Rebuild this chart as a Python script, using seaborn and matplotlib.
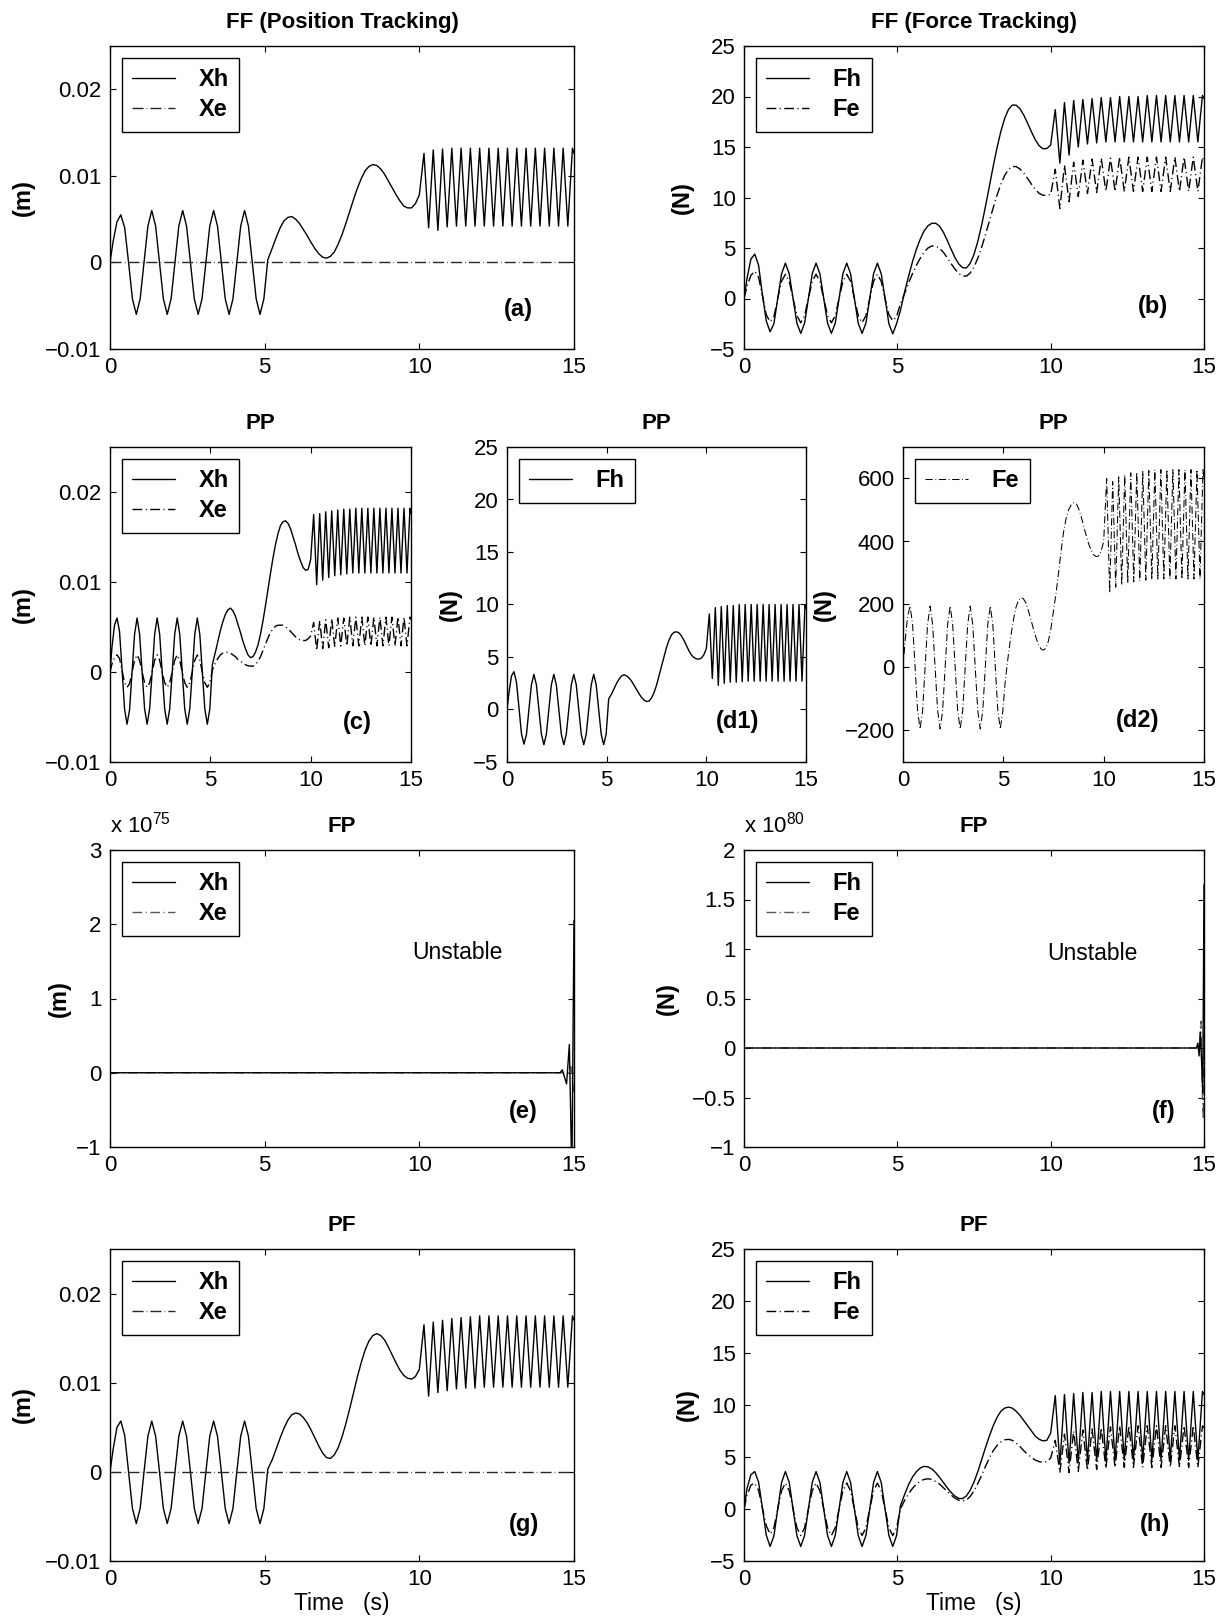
import matplotlib
matplotlib.use("Agg")
import matplotlib.pyplot as plt
import pandas as pd
import seaborn as sns
from matplotlib.ticker import FuncFormatter, FixedLocator

# ---------------- time grids (s) ----------------
T_SLOW = [0.0, 0.1, 0.225, 0.35, 0.475, 0.6, 0.725, 0.85, 0.975,
          1.1, 1.225, 1.35, 1.475, 1.6, 1.725, 1.85, 1.975,
          2.1, 2.225, 2.35, 2.475, 2.6, 2.725, 2.85, 2.975,
          3.1, 3.225, 3.35, 3.475, 3.6, 3.725, 3.85, 3.975,
          4.1, 4.225, 4.35, 4.475, 4.6, 4.725, 4.85, 4.975]
T_MID = [5.1, 5.25, 5.375, 5.5, 5.625, 5.75, 5.875, 6.0, 6.125, 6.25,
         6.375, 6.5, 6.625, 6.75, 6.875, 7.0, 7.125, 7.25, 7.375, 7.5,
         7.625, 7.75, 7.875, 8.0, 8.125, 8.25, 8.375, 8.5, 8.625, 8.75,
         8.875, 9.0, 9.125, 9.25, 9.375, 9.5, 9.625, 9.75, 9.875, 10.0]
T_FAST = [10.15, 10.3, 10.45, 10.6, 10.75, 10.9, 11.05, 11.2, 11.35, 11.5,
          11.65, 11.8, 11.95, 12.1, 12.25, 12.4, 12.55, 12.7, 12.85, 13.0,
          13.15, 13.3, 13.45, 13.6, 13.75, 13.9, 14.05, 14.2, 14.35, 14.5,
          14.65, 14.8, 14.95, 15.0]

# ---------------- (a) FF position ----------------
A_XH_SLOW = [0.0, 0.0024, 0.0047, 0.0055, 0.0040, 0.0, -0.0042, -0.0060, -0.0042,
             0.0, 0.0042, 0.0060, 0.0042, 0.0, -0.0042, -0.0060, -0.0042,
             0.0, 0.0042, 0.0060, 0.0042, 0.0, -0.0042, -0.0060, -0.0042,
             0.0, 0.0042, 0.0060, 0.0042, 0.0, -0.0042, -0.0060, -0.0042,
             0.0, 0.0042, 0.0060, 0.0042, 0.0, -0.0042, -0.0060, -0.0042]
A_XH_MID = [0.0003, 0.0017, 0.0029, 0.0040, 0.0048, 0.0052, 0.0053, 0.0050, 0.0045, 0.0038,
            0.0031, 0.0023, 0.0016, 0.0010, 0.0006, 0.0005, 0.0007, 0.0012, 0.0021, 0.0032,
            0.0045, 0.0059, 0.0073, 0.0086, 0.0097, 0.0106, 0.0111, 0.0113, 0.0112, 0.0108,
            0.0102, 0.0094, 0.0086, 0.0078, 0.0071, 0.0065, 0.0063, 0.0063, 0.0068, 0.0078]
A_XH_FAST = [0.0126, 0.0040, 0.0130, 0.0037, 0.0131, 0.0041, 0.0132, 0.0042,
             0.0132, 0.0042, 0.0132, 0.0042, 0.0132, 0.0042, 0.0132, 0.0042,
             0.0132, 0.0042, 0.0132, 0.0042, 0.0132, 0.0042, 0.0132, 0.0042,
             0.0132, 0.0042, 0.0132, 0.0042, 0.0132, 0.0042, 0.0132, 0.0042,
             0.0132, 0.0126]
FLAT_T = [0.0, 15.0]
FLAT_ZERO = [0.0, 0.0]

# ---------------- (b) FF force ----------------
B_FH_SLOW = [0.0, 2.0, 3.9, 4.4, 3.3, 0.4, -2.2, -3.3, -2.5,
             0.0, 2.45, 3.5, 2.45, 0.0, -2.45, -3.45, -2.45,
             0.0, 2.45, 3.5, 2.45, 0.0, -2.45, -3.45, -2.45,
             0.0, 2.45, 3.5, 2.45, 0.0, -2.45, -3.45, -2.45,
             0.0, 2.45, 3.5, 2.45, 0.0, -2.5, -3.5, -2.5]
B_FH_MID = [-1.2, 0.8, 2.3, 3.7, 4.9, 5.9, 6.7, 7.2, 7.45, 7.45,
            7.17, 6.57, 5.77, 4.9, 4.08, 3.43, 3.06, 3.02, 3.48, 4.37,
            5.66, 7.28, 9.13, 11.1, 13.07, 14.92, 16.54, 17.83, 18.72, 19.16,
            19.14, 18.78, 18.15, 17.34, 16.49, 15.71, 15.12, 14.83, 14.85, 15.2]
B_FH_FAST = [18.7, 13.4, 19.4, 14.2, 19.6, 15.0, 19.7, 15.3,
             19.8, 15.4, 19.9, 15.5, 19.9, 15.5, 20.0, 15.5,
             20.0, 15.5, 20.0, 15.5, 20.1, 15.5, 20.1, 15.5,
             20.1, 15.5, 20.1, 15.5, 20.1, 15.5, 20.1, 15.5,
             20.1, 19.8]
B_FE_SLOW = [0.0, 1.2, 2.3, 2.7, 2.1, 0.3, -1.6, -2.3, -1.8,
             0.0, 1.7, 2.4, 1.7, 0.0, -1.7, -2.4, -1.7,
             0.0, 1.7, 2.4, 1.7, 0.0, -1.7, -2.4, -1.7,
             0.0, 1.7, 2.4, 1.7, 0.0, -1.7, -2.4, -1.7,
             0.0, 1.7, 2.4, 1.7, 0.0, -1.6, -2.2, -1.8]
B_FE_MID = [-0.5, 0.6, 1.6, 2.5, 3.3, 4.0, 4.6, 5.0, 5.2, 5.2,
            4.98, 4.58, 4.05, 3.47, 2.92, 2.49, 2.24, 2.21, 2.52, 3.12,
            3.99, 5.08, 6.33, 7.65, 8.97, 10.22, 11.31, 12.18, 12.78, 13.07,
            13.06, 12.82, 12.41, 11.88, 11.31, 10.8, 10.41, 10.22, 10.2, 10.3]
B_FE_FAST = [12.8, 8.9, 13.2, 9.6, 13.5, 10.1, 13.7, 10.4,
             13.8, 10.5, 13.9, 10.6, 13.9, 10.6, 14.0, 10.6,
             14.0, 10.6, 14.0, 10.6, 14.0, 10.6, 14.0, 10.6,
             14.0, 10.6, 14.0, 10.6, 14.0, 10.6, 14.0, 10.6,
             14.0, 13.6]

# ---------------- (c) PP position ----------------
C_XH_SLOW = [0.0, 0.0028, 0.0052, 0.0060, 0.0045, 0.0003, -0.0041, -0.0058, -0.0042,
             0.0, 0.0042, 0.0060, 0.0042, 0.0, -0.0041, -0.0058, -0.0041,
             0.0, 0.0042, 0.0060, 0.0042, 0.0, -0.0041, -0.0058, -0.0041,
             0.0, 0.0042, 0.0060, 0.0042, 0.0, -0.0041, -0.0058, -0.0041,
             0.0, 0.0042, 0.0060, 0.0042, 0.0, -0.0041, -0.0058, -0.0041]
C_XH_MID = [0.0008, 0.0022, 0.0034, 0.0046, 0.0056, 0.0064, 0.0069, 0.0071, 0.0068, 0.0062,
            0.0053, 0.0044, 0.0034, 0.0026, 0.0019, 0.0016, 0.0017, 0.0022, 0.0030, 0.0042,
            0.0057, 0.0074, 0.0092, 0.0110, 0.0127, 0.0142, 0.0154, 0.0163, 0.0167, 0.0168,
            0.0165, 0.0159, 0.0150, 0.0141, 0.0131, 0.0123, 0.0116, 0.0113, 0.0114, 0.0125]
C_XH_FAST = [0.0175, 0.0097, 0.0176, 0.0102, 0.0178, 0.0105, 0.0179, 0.0107,
             0.0180, 0.0108, 0.0181, 0.0109, 0.0181, 0.0110, 0.0182, 0.0110,
             0.0182, 0.0110, 0.0182, 0.0110, 0.0182, 0.0110, 0.0182, 0.0110,
             0.0182, 0.0110, 0.0182, 0.0110, 0.0182, 0.0110, 0.0182, 0.0110,
             0.0182, 0.0176]
C_XE_SLOW = [0.0, 0.0009, 0.0016, 0.0019, 0.0015, 0.0002, -0.0012, -0.0017, -0.0013,
             0.0, 0.0013, 0.0019, 0.0013, 0.0, -0.0012, -0.0017, -0.0012,
             0.0, 0.0013, 0.0019, 0.0013, 0.0, -0.0012, -0.0017, -0.0012,
             0.0, 0.0013, 0.0019, 0.0013, 0.0, -0.0012, -0.0017, -0.0012,
             0.0, 0.0013, 0.0019, 0.0013, 0.0, -0.0012, -0.0017, -0.0012]
C_XE_MID = [0.0002, 0.0010, 0.0015, 0.0019, 0.0021, 0.0022, 0.0022, 0.0021, 0.0019, 0.0017,
            0.0014, 0.0012, 0.0010, 0.0008, 0.0007, 0.00066, 0.00065, 0.0008, 0.0012, 0.0017,
            0.0024, 0.0031, 0.0038, 0.0044, 0.0048, 0.0051, 0.0052, 0.0052, 0.0052, 0.0050,
            0.0048, 0.0045, 0.0042, 0.0039, 0.0037, 0.0035, 0.0035, 0.0035, 0.0037, 0.0040]
C_XE_FAST = [0.0055, 0.0024, 0.0057, 0.0026, 0.0058, 0.0027, 0.0059, 0.0028,
             0.0060, 0.0029, 0.0060, 0.0029, 0.0061, 0.0029, 0.0061, 0.0029,
             0.0061, 0.0029, 0.0061, 0.0029, 0.0061, 0.0029, 0.0061, 0.0029,
             0.0061, 0.0029, 0.0061, 0.0029, 0.0061, 0.0029, 0.0061, 0.0029,
             0.0061, 0.0058]

# ---------------- (d1) PP Fh ----------------
D1_FH_SLOW = [0.0, 1.6, 3.2, 3.6, 2.6, 0.2, -2.3, -3.3, -2.4,
              0.0, 2.35, 3.35, 2.35, 0.0, -2.35, -3.35, -2.35,
              0.0, 2.35, 3.35, 2.35, 0.0, -2.35, -3.35, -2.35,
              0.0, 2.35, 3.35, 2.35, 0.0, -2.35, -3.35, -2.35,
              0.0, 2.35, 3.35, 2.35, 0.0, -2.35, -3.35, -2.35]
D1_FH_MID = [1.0, 1.5, 2.0, 2.5, 2.9, 3.2, 3.3, 3.2, 3.0, 2.7,
             2.3, 1.9, 1.5, 1.15, 0.9, 0.76, 0.8, 1.1, 1.6, 2.3,
             3.2, 4.1, 5.0, 5.9, 6.6, 7.1, 7.35, 7.4, 7.3, 7.0,
             6.6, 6.1, 5.6, 5.2, 4.95, 4.82, 4.8, 4.9, 5.2, 5.8]
D1_FH_FAST = [9.1, 2.95, 9.7, 2.3, 9.8, 2.5, 9.9, 2.6,
              9.9, 2.6, 10.0, 2.65, 10.0, 2.7, 10.0, 2.7,
              10.0, 2.7, 10.0, 2.7, 10.0, 2.7, 10.0, 2.7,
              10.0, 2.7, 10.0, 2.7, 10.0, 2.7, 10.0, 2.7,
              10.0, 9.6]

# ---------------- (d2) PP Fe ----------------
D2_FE_SLOW = [0, 80, 160, 195, 140, 5, -135, -195, -140,
              0, 137, 195, 137, 0, -137, -195, -137,
              0, 137, 195, 137, 0, -137, -195, -137,
              0, 137, 195, 137, 0, -137, -195, -137,
              0, 137, 195, 137, 0, -137, -195, -137]
D2_FE_MID = [-40, 40, 100, 150, 190, 212, 222, 218, 205, 180,
             152, 122, 95, 73, 59, 55, 62, 85, 125, 180,
             235, 300, 368, 430, 472, 500, 516, 523, 521, 505,
             480, 450, 420, 393, 372, 358, 352, 354, 370, 400]
D2_FE_FAST = [600, 237, 590, 255, 605, 262, 612, 268,
              618, 272, 620, 275, 622, 277, 625, 279,
              628, 281, 628, 281, 628, 281, 628, 281,
              628, 281, 628, 281, 628, 281, 628, 281,
              628, 600]

# ---------------- (e) FP position (x 1e75) ----------------
E_XH_T = [0.0, 14.55, 14.62, 14.68, 14.76, 14.85, 14.93, 15.0]
E_XH = [0.0, 0.0, 0.04, -0.04, -0.15, 0.38, -1.4, 2.05]
E_XE_T = [0.0, 14.8, 14.9, 15.0]
E_XE = [0.0, 0.0, 0.08, -0.3]

# ---------------- (f) FP force (x 1e80) ----------------
F_FH_T = [0.0, 14.75, 14.8, 14.84, 14.88, 14.92, 14.96, 15.0]
F_FH = [0.0, 0.0, 0.05, -0.08, 0.16, -0.12, -0.45, 1.65]
F_FE_T = [0.0, 14.85, 14.9, 14.95, 14.98, 15.0]
F_FE = [0.0, 0.0, 0.27, -0.5, -0.72, 0.5]

# ---------------- (g) PF position ----------------
G_XH_SLOW = [0.0, 0.0025, 0.0050, 0.0057, 0.0041, 0.0, -0.0041, -0.0058, -0.0041,
             0.0, 0.0040, 0.0057, 0.0040, 0.0, -0.0041, -0.0058, -0.0041,
             0.0, 0.0040, 0.0057, 0.0040, 0.0, -0.0041, -0.0058, -0.0041,
             0.0, 0.0040, 0.0057, 0.0040, 0.0, -0.0041, -0.0058, -0.0041,
             0.0, 0.0040, 0.0057, 0.0040, 0.0, -0.0041, -0.0058, -0.0041]
G_XH_MID = [0.0003, 0.0014, 0.0026, 0.0038, 0.0049, 0.0058, 0.0064, 0.0066, 0.0065, 0.0061,
            0.0055, 0.0047, 0.0038, 0.0029, 0.0021, 0.0016, 0.0015, 0.0019, 0.0027, 0.0039,
            0.0054, 0.0071, 0.0089, 0.0107, 0.0123, 0.0137, 0.0147, 0.0153, 0.0155, 0.0153,
            0.0148, 0.0140, 0.0131, 0.0122, 0.0114, 0.0108, 0.0105, 0.0104, 0.0107, 0.0115]
G_XH_FAST = [0.0165, 0.0085, 0.0168, 0.0089, 0.0170, 0.0091, 0.0172, 0.0093,
             0.0173, 0.0094, 0.0174, 0.0094, 0.0175, 0.0095, 0.0175, 0.0095,
             0.0175, 0.0095, 0.0175, 0.0095, 0.0175, 0.0095, 0.0175, 0.0095,
             0.0175, 0.0095, 0.0175, 0.0095, 0.0175, 0.0095, 0.0175, 0.0095,
             0.0175, 0.0170]

# ---------------- (h) PF force ----------------
H_FH_SLOW = [0.0, 2.0, 3.3, 3.6, 2.6, 0.1, -2.5, -3.6, -2.6,
             0.0, 2.55, 3.6, 2.55, 0.0, -2.55, -3.6, -2.55,
             0.0, 2.55, 3.6, 2.55, 0.0, -2.55, -3.6, -2.55,
             0.0, 2.55, 3.6, 2.55, 0.0, -2.55, -3.6, -2.55,
             0.0, 2.55, 3.6, 2.55, 0.0, -2.55, -3.6, -2.55]
H_FH_MID = [0.3, 1.5, 2.4, 3.1, 3.6, 3.95, 4.1, 4.05, 3.85, 3.5,
            3.05, 2.55, 2.05, 1.6, 1.25, 1.02, 1.0, 1.25, 1.8, 2.6,
            3.6, 4.75, 5.9, 7.0, 8.0, 8.8, 9.4, 9.7, 9.8, 9.7,
            9.4, 9.0, 8.5, 8.0, 7.5, 7.0, 6.7, 6.55, 6.6, 7.3]
H_FH_FAST = [10.9, 4.3, 11.0, 4.4, 11.1, 4.5, 11.2, 4.6,
             11.2, 4.6, 11.3, 4.6, 11.3, 4.7, 11.3, 4.7,
             11.3, 4.7, 11.3, 4.7, 11.3, 4.7, 11.3, 4.7,
             11.3, 4.7, 11.3, 4.7, 11.3, 4.7, 11.3, 4.7,
             11.3, 11.0]
H_FE_SLOW = [0.0, 1.3, 2.3, 2.5, 1.8, 0.1, -1.6, -2.4, -1.8,
             0.0, 1.75, 2.5, 1.75, 0.0, -1.8, -2.55, -1.8,
             0.0, 1.75, 2.5, 1.75, 0.0, -1.8, -2.55, -1.8,
             0.0, 1.75, 2.5, 1.75, 0.0, -1.8, -2.55, -1.8,
             0.0, 1.75, 2.5, 1.75, 0.0, -1.8, -2.55, -1.8]
H_FE_MID = [0.0, 0.9, 1.5, 2.0, 2.4, 2.7, 2.85, 2.9, 2.85, 2.65,
            2.4, 2.05, 1.7, 1.35, 1.05, 0.85, 0.76, 0.85, 1.2, 1.75,
            2.45, 3.25, 4.1, 4.9, 5.6, 6.1, 6.45, 6.65, 6.7, 6.6,
            6.35, 6.0, 5.6, 5.25, 4.95, 4.7, 4.55, 4.5, 4.55, 4.9]
H_FE_FAST = [6.6, 3.5, 7.2, 3.5, 7.5, 3.6, 7.6, 3.7,
             7.7, 3.8, 7.8, 3.9, 7.9, 4.0, 8.0, 4.0,
             8.0, 4.0, 8.0, 4.0, 8.0, 4.0, 8.0, 4.0,
             8.0, 4.0, 8.0, 4.0, 8.0, 4.0, 8.0, 4.0,
             8.0, 7.8]

# ---------------- style ----------------
sns.set_theme(style="ticks")
plt.rcParams.update({
    "axes.edgecolor": "black",
    "axes.linewidth": 1.0,
    "xtick.direction": "in", "ytick.direction": "in",
    "xtick.top": True, "ytick.right": True,
    "xtick.major.size": 4.5, "ytick.major.size": 4.5,
    "xtick.major.width": 0.8, "ytick.major.width": 0.8,
    "xtick.color": "black", "ytick.color": "black",
    "xtick.labelsize": 16, "ytick.labelsize": 16,
    "xtick.major.pad": 6, "ytick.major.pad": 6,
    "text.color": "black", "axes.labelcolor": "black",
    "mathtext.fontset": "custom",
    "mathtext.rm": "Liberation Sans",
    "mathtext.it": "Liberation Sans:italic",
    "mathtext.bf": "Liberation Sans:bold",
})
plt.rcParams["font.family"] = ["Liberation Sans", "DejaVu Sans"]

SOLID = dict(color="black", lw=1.0, linestyle="-")
DASHDOT = dict(color="black", lw=1.0, linestyle=(0, (7, 2.5, 0.8, 2.5)))
FLATDASH = dict(color="0.15", lw=1.0, linestyle=(0, (8, 2.2, 0.5, 2.2)))
DASHDOT_GRAY = dict(color="0.35", lw=1.0, linestyle=(0, (7, 2.5, 0.8, 2.5)))

LEG_KW = dict(loc="upper left", frameon=True, fancybox=False,
              edgecolor="black", framealpha=1.0,
              prop={"weight": "bold", "size": 17},
              handlelength=1.8, handletextpad=1.0, borderpad=0.45,
              borderaxespad=0.5, labelspacing=0.28)

W, H = 1225, 1621
fig = plt.figure(figsize=(W / 100, H / 100), dpi=100)


def make_axes(left, top, width, height):
    return fig.add_axes([left / W, 1 - (top + height) / H, width / W, height / H])


def fmt(v, _pos=None):
    s = "%g" % v
    return s.replace("-", "\u2212")


def series(t_list, v_list):
    if len(t_list) != len(v_list):
        raise ValueError("length mismatch %d vs %d" % (len(t_list), len(v_list)))
    return pd.DataFrame({"t": t_list, "v": v_list})


def full(slow, mid, fast):
    return series(T_SLOW + T_MID + T_FAST, slow + mid + fast)


def draw(ax, df, label, style):
    sns.lineplot(data=df, x="t", y="v", ax=ax, label=label, sort=False,
                 estimator=None, **style)


def finish(ax, title, ylim, yticks, ylabel, ylab_x, tag, tag_xy,
           xlabel=None, handles=None, labels=None):
    ax.set_xlim(0, 15)
    ax.set_ylim(*ylim)
    ax.xaxis.set_major_locator(FixedLocator([0, 5, 10, 15]))
    ax.yaxis.set_major_locator(FixedLocator(yticks))
    ax.yaxis.set_major_formatter(FuncFormatter(fmt))
    ax.xaxis.set_major_formatter(FuncFormatter(fmt))
    ax.set_title(title, fontsize=16, fontweight="bold", pad=13)
    ax.set_ylabel(ylabel, fontsize=17, fontweight="bold", va="center")
    ax.yaxis.set_label_coords(ylab_x, 0.5)
    if xlabel:
        ax.set_xlabel(xlabel, fontsize=16.5, labelpad=1)
    else:
        ax.set_xlabel("")
    ax.text(tag_xy[0], tag_xy[1], tag, transform=ax.transAxes, fontsize=17,
            fontweight="bold", ha="center", va="center")
    if handles is None:
        leg = ax.legend(**LEG_KW)
    else:
        leg = ax.legend(handles, labels, **LEG_KW)
    leg.get_frame().set_linewidth(1.0)
    for s in ax.spines.values():
        s.set_visible(True)
        s.set_color("black")
        s.set_linewidth(1.0)


Y_POS = [-0.01, 0.0, 0.01, 0.02]
Y_POS_LIM = (-0.01, 0.025)
Y_F = [-5, 0, 5, 10, 15, 20, 25]

# (a)
ax = make_axes(110, 46, 464, 303)
draw(ax, full(A_XH_SLOW, A_XH_MID, A_XH_FAST), "Xh", SOLID)
draw(ax, series(FLAT_T, FLAT_ZERO), "Xe", FLATDASH)
finish(ax, "FF (Position Tracking)", Y_POS_LIM, Y_POS, "(m)", -0.1875,
       "(a)", (0.88, 0.13))

# (b)
ax = make_axes(744, 46, 460, 303)
draw(ax, full(B_FH_SLOW, B_FH_MID, B_FH_FAST), "Fh", SOLID)
draw(ax, full(B_FE_SLOW, B_FE_MID, B_FE_FAST), "Fe", DASHDOT)
finish(ax, "FF (Force Tracking)", (-5, 25), Y_F, "(N)", -0.133,
       "(b)", (0.89, 0.14))

# (c)
ax = make_axes(110, 447, 301, 315)
draw(ax, full(C_XH_SLOW, C_XH_MID, C_XH_FAST), "Xh", SOLID)
draw(ax, full(C_XE_SLOW, C_XE_MID, C_XE_FAST), "Xe", DASHDOT)
finish(ax, "PP", Y_POS_LIM, Y_POS, "(m)", -0.289, "(c)", (0.823, 0.126))

# (d1)
ax = make_axes(507, 447, 299, 315)
draw(ax, full(D1_FH_SLOW, D1_FH_MID, D1_FH_FAST), "Fh", SOLID)
finish(ax, "PP", (-5, 25), Y_F, "(N)", -0.19, "(d1)", (0.771, 0.129))

# (d2)
ax = make_axes(903, 447, 301, 315)
draw(ax, full(D2_FE_SLOW, D2_FE_MID, D2_FE_FAST), "Fe",
     dict(DASHDOT, lw=0.75))
finish(ax, "PP", (-300, 700), [-200, 0, 200, 400, 600], "(N)", -0.262,
       "(d2)", (0.779, 0.132))

# (e)
ax = make_axes(110, 850, 464, 297)
draw(ax, series(E_XE_T, E_XE), "Xe", DASHDOT_GRAY)
draw(ax, series(E_XH_T, E_XH), "Xh", SOLID)
finish(ax, "FP", (-1, 3), [-1, 0, 1, 2, 3], "(m)", -0.11, "(e)", (0.891, 0.119),
       handles=[ax.lines[1], ax.lines[0]], labels=["Xh", "Xe"])
ax.text(0.0, 1.0 + 17 / 297, r"x 10$^{75}$", transform=ax.transAxes,
        fontsize=16, ha="left", va="baseline")
ax.text(0.749, 0.656, "Unstable", transform=ax.transAxes, fontsize=16.5,
        ha="center", va="center")

# (f)
ax = make_axes(744, 850, 460, 297)
draw(ax, series(F_FE_T, F_FE), "Fe", DASHDOT_GRAY)
draw(ax, series(F_FH_T, F_FH), "Fh", SOLID)
finish(ax, "FP", (-1, 2), [-1, -0.5, 0, 0.5, 1, 1.5, 2], "(N)", -0.167,
       "(f)", (0.912, 0.119),
       handles=[ax.lines[1], ax.lines[0]], labels=["Fh", "Fe"])
ax.text(0.0, 1.0 + 17 / 297, r"x 10$^{80}$", transform=ax.transAxes,
        fontsize=16, ha="left", va="baseline")
ax.text(0.757, 0.652, "Unstable", transform=ax.transAxes, fontsize=16.5,
        ha="center", va="center")

# (g)
ax = make_axes(110, 1249, 464, 312)
draw(ax, full(G_XH_SLOW, G_XH_MID, G_XH_FAST), "Xh", SOLID)
draw(ax, series(FLAT_T, FLAT_ZERO), "Xe", FLATDASH)
finish(ax, "PF", Y_POS_LIM, Y_POS, "(m)", -0.1875, "(g)", (0.893, 0.117),
       xlabel="Time   (s)")

# (h)
ax = make_axes(744, 1249, 460, 312)
draw(ax, full(H_FH_SLOW, H_FH_MID, H_FH_FAST), "Fh", SOLID)
draw(ax, full(H_FE_SLOW, H_FE_MID, H_FE_FAST), "Fe", DASHDOT)
finish(ax, "PF", (-5, 25), Y_F, "(N)", -0.124, "(h)", (0.894, 0.118),
       xlabel="Time   (s)")

fig.savefig("out.png", dpi=100, facecolor="white")
